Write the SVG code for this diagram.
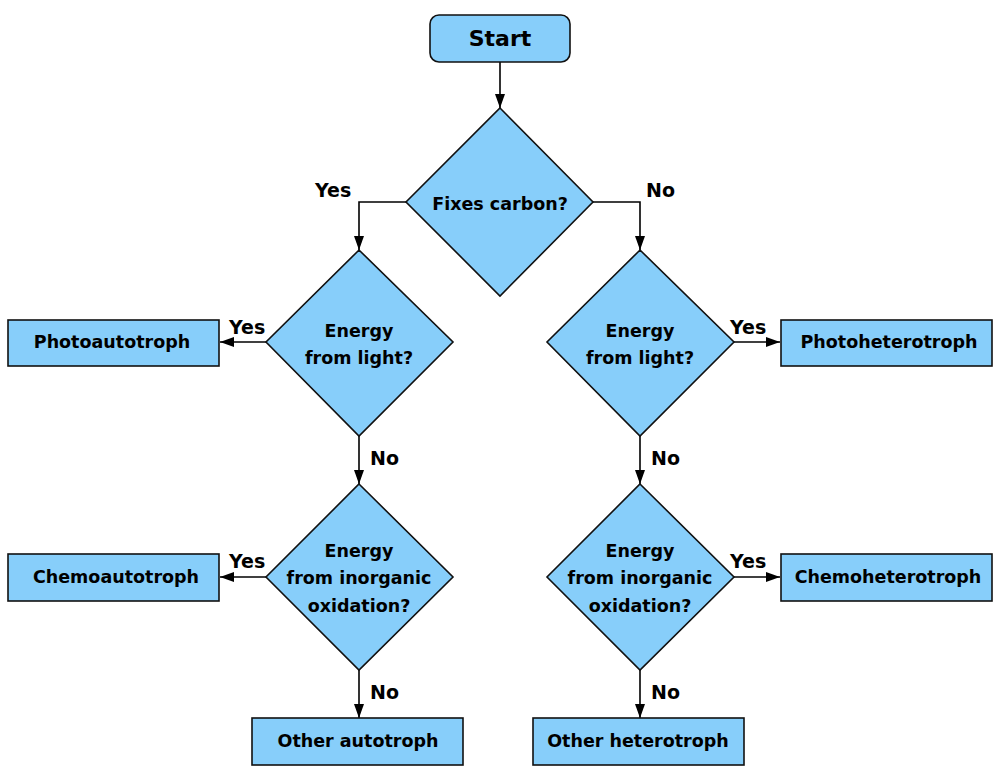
<svg xmlns="http://www.w3.org/2000/svg" width="1000" height="780" viewBox="0 0 1000 780">
<defs>
<marker id="arr" viewBox="0 0 14 10" refX="14" refY="5" markerWidth="14" markerHeight="10" markerUnits="userSpaceOnUse" orient="auto">
<path d="M0,0 L14,5 L0,10 Z" fill="#000"/>
</marker>
</defs>
<style>
.n{fill:#87CEFA;stroke:#111;stroke-width:1.6}
.t{font-family:"DejaVu Sans",sans-serif;font-weight:bold;font-size:17.5px;fill:#000;text-anchor:middle}
.l{font-family:"DejaVu Sans",sans-serif;font-weight:bold;font-size:19px;fill:#000}
.c{fill:none;stroke:#000;stroke-width:1.6;marker-end:url(#arr)}
</style>
<rect width="1000" height="780" fill="#fff"/>
<g id="connectors">
<path class="c" d="M500,62 L500,108"/>
<path class="c" d="M406,202 L359,202 L359,250"/>
<path class="c" d="M593,202 L640,202 L640,250"/>
<path class="c" d="M266,342 L220,342"/>
<path class="c" d="M734,342 L780,342"/>
<path class="c" d="M359,436 L359,484"/>
<path class="c" d="M640,436 L640,484"/>
<path class="c" d="M266,577 L220,577"/>
<path class="c" d="M734,577 L780,577"/>
<path class="c" d="M359,670 L359,718"/>
<path class="c" d="M640,670 L640,718"/>
<text class="l" x="315" y="197">Yes</text>
<text class="l" x="646" y="197">No</text>
<text class="l" x="229" y="334">Yes</text>
<text class="l" x="730" y="334">Yes</text>
<text class="l" x="370" y="465">No</text>
<text class="l" x="651" y="465">No</text>
<text class="l" x="229" y="568">Yes</text>
<text class="l" x="730" y="568">Yes</text>
<text class="l" x="370" y="699">No</text>
<text class="l" x="651" y="699">No</text>
</g>
<g id="start">
<rect class="n" x="430" y="15" width="140" height="47" rx="9"/>
<text class="t" x="500" y="46" style="font-size:22px">Start</text>
</g>
<g id="fixes-carbon">
<polygon class="n" points="500,108 593,202 500,296 406,202"/>
<text class="t" x="500" y="210">Fixes carbon?</text>
</g>
<g id="light-auto">
<polygon class="n" points="359,250 453,342 359,436 266,342"/>
<text class="t" x="359" y="337">Energy</text>
<text class="t" x="359" y="364">from light?</text>
</g>
<g id="light-hetero">
<polygon class="n" points="640,250 734,342 640,436 547,342"/>
<text class="t" x="640" y="337">Energy</text>
<text class="t" x="640" y="364">from light?</text>
</g>
<g id="inorg-auto">
<polygon class="n" points="359,484 453,577 359,670 266,577"/>
<text class="t" x="359" y="557">Energy</text>
<text class="t" x="359" y="584">from inorganic</text>
<text class="t" x="359" y="612">oxidation?</text>
</g>
<g id="inorg-hetero">
<polygon class="n" points="640,484 734,577 640,670 547,577"/>
<text class="t" x="640" y="557">Energy</text>
<text class="t" x="640" y="584">from inorganic</text>
<text class="t" x="640" y="612">oxidation?</text>
</g>
<g id="photoautotroph">
<rect class="n" x="8" y="320" width="211" height="46"/>
<text class="t" x="112" y="348">Photoautotroph</text>
</g>
<g id="photoheterotroph">
<rect class="n" x="781" y="320" width="211" height="46"/>
<text class="t" x="889" y="348">Photoheterotroph</text>
</g>
<g id="chemoautotroph">
<rect class="n" x="8" y="554" width="211" height="47"/>
<text class="t" x="116" y="583">Chemoautotroph</text>
</g>
<g id="chemoheterotroph">
<rect class="n" x="781" y="554" width="211" height="47"/>
<text class="t" x="888" y="583">Chemoheterotroph</text>
</g>
<g id="other-autotroph">
<rect class="n" x="252" y="718" width="211" height="47"/>
<text class="t" x="358" y="747">Other autotroph</text>
</g>
<g id="other-heterotroph">
<rect class="n" x="533" y="718" width="211" height="47"/>
<text class="t" x="638" y="747">Other heterotroph</text>
</g>
</svg>
